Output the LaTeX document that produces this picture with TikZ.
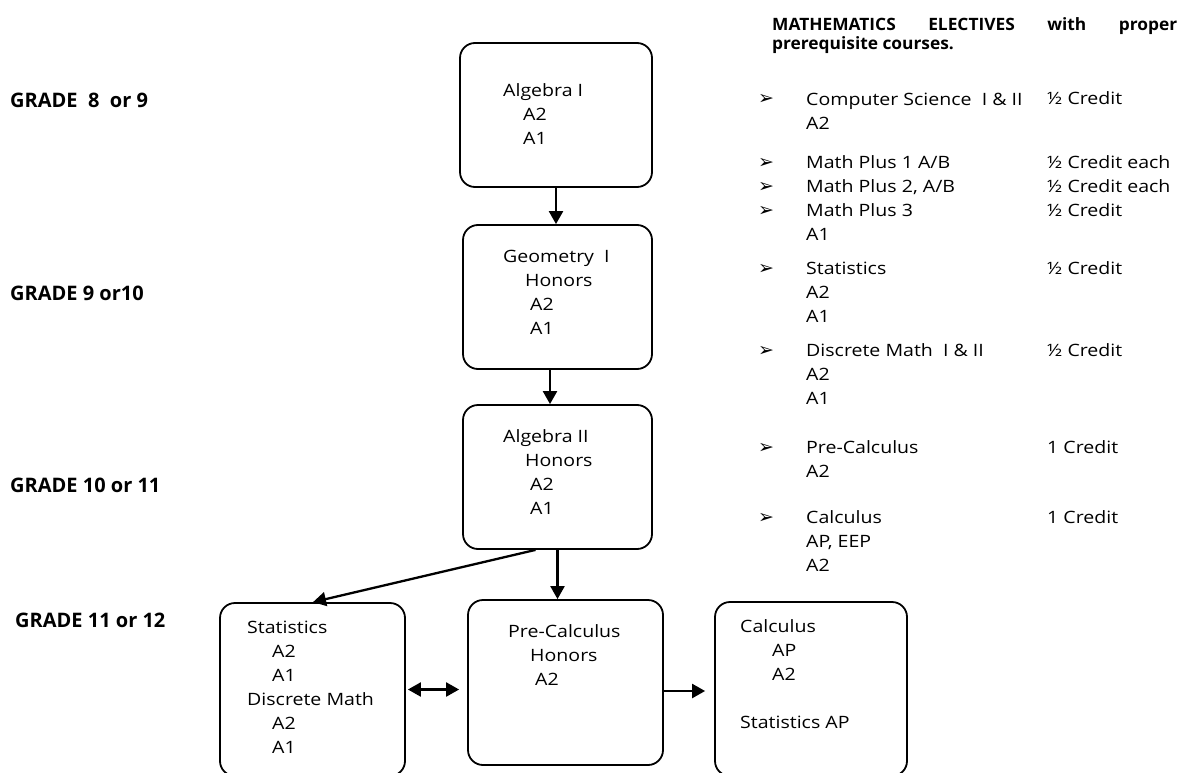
\documentclass[tikz,border=0pt]{standalone}
\usepackage{fontspec}
\setmainfont{Open Sans}[FakeStretch=1.15]
\newfontfamily\gradefont{Open Sans}
\newfontfamily\headfont{Open Sans}[FakeStretch=1.02]
\newfontfamily\symfont{DejaVu Sans}
\usetikzlibrary{arrows.meta}
\begin{document}
\begin{tikzpicture}[x=1pt,y=-1pt,
  box/.style={draw, line width=1.8pt, rounded corners=15pt, inner sep=0pt},
  arr/.style={line width=2.3pt, -{Triangle[length=13pt,width=14pt]}},
  dblarr/.style={line width=2.3pt, {Triangle[length=13pt,width=14pt]}-{Triangle[length=13pt,width=14pt]}},
  txt/.style={anchor=base west, inner sep=0pt, align=left, font=\fontsize{17}{24}\selectfont},
  grade/.style={anchor=base west, inner sep=0pt, font=\gradefont\bfseries\fontsize{20}{24}\selectfont},
  head/.style={anchor=base west, inner sep=0pt, align=left, font=\headfont\bfseries\fontsize{17}{20}\selectfont},
  bul/.style={anchor=base west, inner sep=0pt, font=\symfont\fontsize{19}{24}\selectfont}]
\useasboundingbox (0,0) rectangle (1188,773);

% boxes
\node[box, minimum width=192pt, minimum height=144pt] (alg1) at (556,115) {};
\node[box, minimum width=189pt, minimum height=144pt] (geo) at (557.5,297) {};
\node[box, minimum width=189pt, minimum height=144pt] (alg2) at (557.5,477) {};
\node[box, minimum width=185pt, minimum height=173pt] (left) at (312.5,689.5) {};
\node[box, minimum width=195pt, minimum height=165pt] (mid) at (565.5,682.5) {};
\node[box, minimum width=192pt, minimum height=174pt] (right) at (811,689) {};

% box texts (anchor = baseline of last line)
\node[txt] (t1) at (503,145) {Algebra I\\\hspace*{20pt}A2\\\hspace*{20pt}A1};
\node[txt] (t2) at (503,334) {Geometry\ \ I\\\hspace*{22pt}Honors\\\hspace*{27pt}A2\\\hspace*{27pt}A1};
\node[txt] (t3) at (503,514) {Algebra II\\\hspace*{22pt}Honors\\\hspace*{27pt}A2\\\hspace*{27pt}A1};
\node[txt] (t4) at (247,753) {Statistics\\\hspace*{25pt}A2\\\hspace*{25pt}A1\\Discrete Math\\\hspace*{25pt}A2\\\hspace*{25pt}A1};
\node[txt] (t5) at (508,685) {Pre-Calculus\\\hspace*{22pt}Honors\\\hspace*{27pt}A2};
\node[txt] (t6) at (740,728) {Calculus\\\hspace*{32pt}AP\\\hspace*{32pt}A2\\[24pt]Statistics AP};

% arrows
\draw[arr] (alg1.south) -- (alg1.south |- geo.north);
\draw[arr] ([xshift=-7.5pt]geo.south) -- ([xshift=-7.5pt]geo.south |- alg2.north);
\draw[arr] (alg2.south) -- (alg2.south |- mid.north);
\draw[arr] ([xshift=-22pt]alg2.south) -- ([xshift=0.5pt]left.north);
\draw[dblarr] ([xshift=2pt]left.east) -- ([xshift=-8pt]left.east -| mid.west);
\draw[arr] ([yshift=-8.5pt]mid.east) -- ([yshift=-8.5pt,xshift=-9pt]mid.east -| right.west);

% grade labels
\node[grade] (g1) at (10,108) {GRADE\ \ 8\ \ or 9};
\node[grade] (g2) at (10,300) {GRADE 9 or10};
\node[grade] (g3) at (10,492) {GRADE 10 or 11};
\node[grade] (g4) at (15,627) {GRADE 11 or 12};

% header
\node[head] (h1) at (772,31) {\makebox[405pt][s]{MATHEMATICS ELECTIVES with proper}};
\node[head] (h2) at (772,50) {prerequisite courses.};

% electives list (anchor = baseline of last line)
\node[bul] (b1) at (758,105) {➢};
\node[txt] (e1) at (806,129) {Computer Science\ \ I \& II\\A2};
\node[txt] (c1) at (1047,105) {½ Credit};

\node[bul] (b2) at (758,168) {➢};
\node[txt] (e2) at (806,168) {Math Plus 1 A/B};
\node[txt] (c2) at (1047,168) {½ Credit each};
\node[bul] (b3) at (758,192) {➢};
\node[txt] (e3) at (806,192) {Math Plus 2, A/B};
\node[txt] (c3) at (1047,192) {½ Credit each};
\node[bul] (b4) at (758,216) {➢};
\node[txt] (e4) at (806,240) {Math Plus 3\\A1};
\node[txt] (c4) at (1047,216) {½ Credit};

\node[bul] (b5) at (758,274) {➢};
\node[txt] (e5) at (806,322) {Statistics\\A2\\A1};
\node[txt] (c5) at (1047,274) {½ Credit};

\node[bul] (b6) at (758,356) {➢};
\node[txt] (e6) at (806,404) {Discrete Math\ \ I \& II\\A2\\A1};
\node[txt] (c6) at (1047,356) {½ Credit};

\node[bul] (b7) at (758,453) {➢};
\node[txt] (e7) at (806,477) {Pre-Calculus\\A2};
\node[txt] (c7) at (1047,453) {1 Credit};

\node[bul] (b8) at (758,523) {➢};
\node[txt] (e8) at (806,571) {Calculus\\AP, EEP\\A2};
\node[txt] (c8) at (1047,523) {1 Credit};
\end{tikzpicture}
\end{document}
